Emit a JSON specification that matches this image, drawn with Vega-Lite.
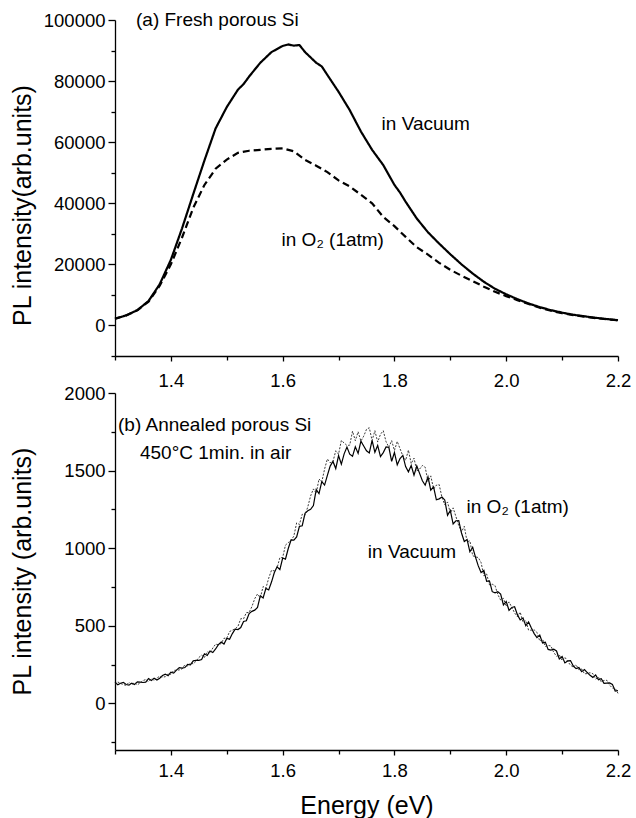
{
  "$schema": "https://vega.github.io/schema/vega-lite/v6.json",
  "background": "white",
  "padding": {"left": 10, "top": 11, "right": 8, "bottom": 0},
  "bounds": "flush",
  "spacing": 37,
  "config": {
    "view": {"stroke": null},
    "font": "Liberation Sans",
    "axis": {
      "labelFont": "Liberation Sans",
      "labelFontSize": 18.5,
      "labelColor": "black",
      "titleFont": "Liberation Sans",
      "titleFontSize": 25,
      "titleFontWeight": "normal",
      "titleColor": "black",
      "domainColor": "black",
      "domainWidth": 1.3,
      "tickColor": "black",
      "tickWidth": 1.3,
      "grid": false,
      "labelOverlap": false,
      "labelFlush": false
    },
    "text": {"font": "Liberation Sans", "fontSize": 19, "color": "black"}
  },
  "datasets": {
    "top": [
      {"series":"vacuum","E":1.30,"I":2200},{"series":"vacuum","E":1.32,"I":3300},{"series":"vacuum","E":1.34,"I":5000},{"series":"vacuum","E":1.36,"I":8000},{"series":"vacuum","E":1.38,"I":13500},{"series":"vacuum","E":1.40,"I":21500},{"series":"vacuum","E":1.42,"I":31800},{"series":"vacuum","E":1.44,"I":43000},{"series":"vacuum","E":1.46,"I":54000},{"series":"vacuum","E":1.48,"I":64500},{"series":"vacuum","E":1.50,"I":71500},{"series":"vacuum","E":1.52,"I":77200},{"series":"vacuum","E":1.53,"I":79000},{"series":"vacuum","E":1.54,"I":81500},{"series":"vacuum","E":1.56,"I":86000},{"series":"vacuum","E":1.58,"I":89500},{"series":"vacuum","E":1.59,"I":90500},{"series":"vacuum","E":1.60,"I":91500},{"series":"vacuum","E":1.61,"I":92000},{"series":"vacuum","E":1.62,"I":91600},{"series":"vacuum","E":1.63,"I":91800},{"series":"vacuum","E":1.64,"I":89500},{"series":"vacuum","E":1.66,"I":86000},{"series":"vacuum","E":1.67,"I":84800},{"series":"vacuum","E":1.68,"I":82000},{"series":"vacuum","E":1.70,"I":76500},{"series":"vacuum","E":1.72,"I":70500},{"series":"vacuum","E":1.74,"I":63500},{"series":"vacuum","E":1.76,"I":57500},{"series":"vacuum","E":1.78,"I":52500},{"series":"vacuum","E":1.80,"I":46000},{"series":"vacuum","E":1.81,"I":43500},{"series":"vacuum","E":1.82,"I":40500},{"series":"vacuum","E":1.84,"I":35000},{"series":"vacuum","E":1.86,"I":30500},{"series":"vacuum","E":1.88,"I":26800},{"series":"vacuum","E":1.90,"I":23300},{"series":"vacuum","E":1.92,"I":20000},{"series":"vacuum","E":1.94,"I":17000},{"series":"vacuum","E":1.96,"I":14300},{"series":"vacuum","E":1.98,"I":12000},{"series":"vacuum","E":2.00,"I":10200},{"series":"vacuum","E":2.02,"I":8600},{"series":"vacuum","E":2.04,"I":7200},{"series":"vacuum","E":2.06,"I":6000},{"series":"vacuum","E":2.08,"I":5000},{"series":"vacuum","E":2.10,"I":4200},{"series":"vacuum","E":2.12,"I":3500},{"series":"vacuum","E":2.14,"I":3000},{"series":"vacuum","E":2.16,"I":2500},{"series":"vacuum","E":2.18,"I":2100},{"series":"vacuum","E":2.20,"I":1700},
      {"series":"o2","E":1.30,"I":2200},{"series":"o2","E":1.32,"I":3300},{"series":"o2","E":1.34,"I":5000},{"series":"o2","E":1.36,"I":7800},{"series":"o2","E":1.38,"I":13000},{"series":"o2","E":1.40,"I":20000},{"series":"o2","E":1.42,"I":28800},{"series":"o2","E":1.44,"I":38500},{"series":"o2","E":1.46,"I":46000},{"series":"o2","E":1.48,"I":51300},{"series":"o2","E":1.50,"I":54300},{"series":"o2","E":1.52,"I":56500},{"series":"o2","E":1.54,"I":57200},{"series":"o2","E":1.56,"I":57500},{"series":"o2","E":1.58,"I":57800},{"series":"o2","E":1.60,"I":58000},{"series":"o2","E":1.62,"I":57000},{"series":"o2","E":1.64,"I":54200},{"series":"o2","E":1.66,"I":52300},{"series":"o2","E":1.68,"I":50200},{"series":"o2","E":1.70,"I":47500},{"series":"o2","E":1.72,"I":45500},{"series":"o2","E":1.74,"I":42800},{"series":"o2","E":1.76,"I":40000},{"series":"o2","E":1.78,"I":35500},{"series":"o2","E":1.80,"I":32500},{"series":"o2","E":1.82,"I":29000},{"series":"o2","E":1.84,"I":25600},{"series":"o2","E":1.86,"I":23200},{"series":"o2","E":1.88,"I":20500},{"series":"o2","E":1.90,"I":18200},{"series":"o2","E":1.92,"I":16300},{"series":"o2","E":1.94,"I":14500},{"series":"o2","E":1.96,"I":12700},{"series":"o2","E":1.98,"I":11000},{"series":"o2","E":2.00,"I":9600},{"series":"o2","E":2.02,"I":8300},{"series":"o2","E":2.04,"I":7000},{"series":"o2","E":2.06,"I":5800},{"series":"o2","E":2.08,"I":4800},{"series":"o2","E":2.10,"I":4000},{"series":"o2","E":2.12,"I":3400},{"series":"o2","E":2.14,"I":2900},{"series":"o2","E":2.16,"I":2400},{"series":"o2","E":2.18,"I":2000},{"series":"o2","E":2.20,"I":1700}
    ],
    "toplabels": [
      {"E":1.3376,"I":99850,"label":"(a) Fresh porous Si"},
      {"E":1.777,"I":65900,"label":"in Vacuum"},
      {"E":1.598,"I":28060,"label":"in O₂ (1atm)"}
    ],
    "bottomv": [
      {"E":1.300,"I":136},{"E":1.305,"I":120},{"E":1.310,"I":130},{"E":1.315,"I":136},{"E":1.320,"I":122},{"E":1.325,"I":118},{"E":1.330,"I":131},{"E":1.335,"I":122},{"E":1.340,"I":139},{"E":1.345,"I":137},
      {"E":1.350,"I":135},{"E":1.355,"I":137},{"E":1.360,"I":160},{"E":1.365,"I":148},{"E":1.370,"I":162},{"E":1.375,"I":151},{"E":1.380,"I":162},{"E":1.385,"I":180},{"E":1.390,"I":189},{"E":1.395,"I":179},
      {"E":1.400,"I":201},{"E":1.405,"I":195},{"E":1.410,"I":215},{"E":1.415,"I":231},{"E":1.420,"I":227},{"E":1.425,"I":231},{"E":1.430,"I":251},{"E":1.435,"I":249},{"E":1.440,"I":274},{"E":1.445,"I":277},
      {"E":1.450,"I":278},{"E":1.455,"I":283},{"E":1.460,"I":320},{"E":1.465,"I":309},{"E":1.470,"I":338},{"E":1.475,"I":328},{"E":1.480,"I":351},{"E":1.485,"I":379},{"E":1.490,"I":396},{"E":1.495,"I":383},
      {"E":1.500,"I":419},{"E":1.505,"I":414},{"E":1.510,"I":450},{"E":1.515,"I":478},{"E":1.520,"I":476},{"E":1.525,"I":489},{"E":1.530,"I":528},{"E":1.535,"I":533},{"E":1.540,"I":579},{"E":1.545,"I":593},
      {"E":1.550,"I":601},{"E":1.555,"I":618},{"E":1.560,"I":693},{"E":1.565,"I":679},{"E":1.570,"I":741},{"E":1.575,"I":731},{"E":1.580,"I":782},{"E":1.585,"I":842},{"E":1.590,"I":880},{"E":1.595,"I":862},
      {"E":1.600,"I":937},{"E":1.605,"I":930},{"E":1.610,"I":998},{"E":1.615,"I":1053},{"E":1.620,"I":1052},{"E":1.625,"I":1073},{"E":1.630,"I":1141},{"E":1.635,"I":1145},{"E":1.640,"I":1225},{"E":1.645,"I":1241},
      {"E":1.650,"I":1251},{"E":1.655,"I":1275},{"E":1.660,"I":1378},{"E":1.665,"I":1352},{"E":1.670,"I":1429},{"E":1.675,"I":1407},{"E":1.680,"I":1469},{"E":1.685,"I":1529},{"E":1.690,"I":1559},{"E":1.695,"I":1513},
      {"E":1.700,"I":1597},{"E":1.705,"I":1542},{"E":1.710,"I":1608},{"E":1.715,"I":1652},{"E":1.720,"I":1606},{"E":1.725,"I":1592},{"E":1.730,"I":1653},{"E":1.735,"I":1611},{"E":1.740,"I":1690},{"E":1.745,"I":1659},
      {"E":1.750,"I":1628},{"E":1.755,"I":1614},{"E":1.760,"I":1695},{"E":1.765,"I":1618},{"E":1.770,"I":1662},{"E":1.775,"I":1590},{"E":1.780,"I":1616},{"E":1.785,"I":1652},{"E":1.790,"I":1650},{"E":1.795,"I":1560},
      {"E":1.800,"I":1617},{"E":1.805,"I":1537},{"E":1.810,"I":1578},{"E":1.815,"I":1598},{"E":1.820,"I":1526},{"E":1.825,"I":1492},{"E":1.830,"I":1533},{"E":1.835,"I":1471},{"E":1.840,"I":1530},{"E":1.845,"I":1482},
      {"E":1.850,"I":1435},{"E":1.855,"I":1406},{"E":1.860,"I":1460},{"E":1.865,"I":1374},{"E":1.870,"I":1395},{"E":1.875,"I":1312},{"E":1.880,"I":1318},{"E":1.885,"I":1330},{"E":1.890,"I":1311},{"E":1.895,"I":1212},
      {"E":1.900,"I":1244},{"E":1.905,"I":1156},{"E":1.910,"I":1177},{"E":1.915,"I":1178},{"E":1.920,"I":1098},{"E":1.925,"I":1043},{"E":1.930,"I":1056},{"E":1.935,"I":977},{"E":1.940,"I":1006},{"E":1.945,"I":943},
      {"E":1.950,"I":886},{"E":1.955,"I":843},{"E":1.960,"I":858},{"E":1.965,"I":786},{"E":1.970,"I":789},{"E":1.975,"I":720},{"E":1.980,"I":712},{"E":1.985,"I":720},{"E":1.990,"I":705},{"E":1.995,"I":635},
      {"E":2.000,"I":657},{"E":2.005,"I":600},{"E":2.010,"I":618},{"E":2.015,"I":623},{"E":2.020,"I":572},{"E":2.025,"I":538},{"E":2.030,"I":551},{"E":2.035,"I":500},{"E":2.040,"I":525},{"E":2.045,"I":486},
      {"E":2.050,"I":450},{"E":2.055,"I":424},{"E":2.060,"I":440},{"E":2.065,"I":390},{"E":2.070,"I":395},{"E":2.075,"I":348},{"E":2.080,"I":344},{"E":2.085,"I":349},{"E":2.090,"I":338},{"E":2.095,"I":287},
      {"E":2.100,"I":302},{"E":2.105,"I":261},{"E":2.110,"I":274},{"E":2.115,"I":276},{"E":2.120,"I":241},{"E":2.125,"I":224},{"E":2.130,"I":231},{"E":2.135,"I":205},{"E":2.140,"I":218},{"E":2.145,"I":199},
      {"E":2.150,"I":181},{"E":2.155,"I":168},{"E":2.160,"I":184},{"E":2.165,"I":153},{"E":2.170,"I":159},{"E":2.175,"I":130},{"E":2.180,"I":131},{"E":2.185,"I":132},{"E":2.190,"I":123},{"E":2.195,"I":80},
      {"E":2.200,"I":83}
    ],
    "bottomo": [
      {"E":1.300,"I":123},{"E":1.305,"I":138},{"E":1.310,"I":129},{"E":1.315,"I":121},{"E":1.320,"I":117},{"E":1.325,"I":136},{"E":1.330,"I":121},{"E":1.335,"I":134},{"E":1.340,"I":120},{"E":1.345,"I":132},
      {"E":1.350,"I":147},{"E":1.355,"I":154},{"E":1.360,"I":141},{"E":1.365,"I":160},{"E":1.370,"I":148},{"E":1.375,"I":164},{"E":1.380,"I":175},{"E":1.385,"I":170},{"E":1.390,"I":172},{"E":1.395,"I":192},
      {"E":1.400,"I":188},{"E":1.405,"I":213},{"E":1.410,"I":214},{"E":1.415,"I":216},{"E":1.420,"I":222},{"E":1.425,"I":249},{"E":1.430,"I":241},{"E":1.435,"I":261},{"E":1.440,"I":255},{"E":1.445,"I":272},
      {"E":1.450,"I":296},{"E":1.455,"I":311},{"E":1.460,"I":296},{"E":1.465,"I":333},{"E":1.470,"I":325},{"E":1.475,"I":357},{"E":1.480,"I":382},{"E":1.485,"I":378},{"E":1.490,"I":386},{"E":1.495,"I":420},
      {"E":1.500,"I":420},{"E":1.505,"I":463},{"E":1.510,"I":472},{"E":1.515,"I":481},{"E":1.520,"I":496},{"E":1.525,"I":546},{"E":1.530,"I":545},{"E":1.535,"I":585},{"E":1.540,"I":586},{"E":1.545,"I":624},
      {"E":1.550,"I":675},{"E":1.555,"I":705},{"E":1.560,"I":680},{"E":1.565,"I":753},{"E":1.570,"I":742},{"E":1.575,"I":807},{"E":1.580,"I":858},{"E":1.585,"I":854},{"E":1.590,"I":873},{"E":1.595,"I":939},
      {"E":1.600,"I":940},{"E":1.605,"I":1020},{"E":1.610,"I":1036},{"E":1.615,"I":1051},{"E":1.620,"I":1078},{"E":1.625,"I":1163},{"E":1.630,"I":1153},{"E":1.635,"I":1219},{"E":1.640,"I":1212},{"E":1.645,"I":1267},
      {"E":1.650,"I":1337},{"E":1.655,"I":1382},{"E":1.660,"I":1352},{"E":1.665,"I":1446},{"E":1.670,"I":1427},{"E":1.675,"I":1510},{"E":1.680,"I":1575},{"E":1.685,"I":1551},{"E":1.690,"I":1558},{"E":1.695,"I":1628},
      {"E":1.700,"I":1606},{"E":1.705,"I":1694},{"E":1.710,"I":1678},{"E":1.715,"I":1662},{"E":1.720,"I":1664},{"E":1.725,"I":1754},{"E":1.730,"I":1693},{"E":1.735,"I":1750},{"E":1.740,"I":1690},{"E":1.745,"I":1722},
      {"E":1.750,"I":1766},{"E":1.755,"I":1776},{"E":1.760,"I":1694},{"E":1.765,"I":1757},{"E":1.770,"I":1684},{"E":1.775,"I":1734},{"E":1.780,"I":1757},{"E":1.785,"I":1686},{"E":1.790,"I":1651},{"E":1.795,"I":1693},
      {"E":1.800,"I":1630},{"E":1.805,"I":1688},{"E":1.810,"I":1641},{"E":1.815,"I":1595},{"E":1.820,"I":1566},{"E":1.825,"I":1632},{"E":1.830,"I":1545},{"E":1.835,"I":1580},{"E":1.840,"I":1498},{"E":1.845,"I":1510},
      {"E":1.850,"I":1533},{"E":1.855,"I":1522},{"E":1.860,"I":1430},{"E":1.865,"I":1466},{"E":1.870,"I":1382},{"E":1.875,"I":1406},{"E":1.880,"I":1410},{"E":1.885,"I":1328},{"E":1.890,"I":1280},{"E":1.895,"I":1298},
      {"E":1.900,"I":1226},{"E":1.905,"I":1260},{"E":1.910,"I":1204},{"E":1.915,"I":1146},{"E":1.920,"I":1106},{"E":1.925,"I":1141},{"E":1.930,"I":1041},{"E":1.935,"I":1048},{"E":1.940,"I":952},{"E":1.945,"I":944},
      {"E":1.950,"I":940},{"E":1.955,"I":908},{"E":1.960,"I":822},{"E":1.965,"I":834},{"E":1.970,"I":764},{"E":1.975,"I":768},{"E":1.980,"I":759},{"E":1.985,"I":701},{"E":1.990,"I":666},{"E":1.995,"I":677},
      {"E":2.000,"I":625},{"E":2.005,"I":654},{"E":2.010,"I":619},{"E":2.015,"I":583},{"E":2.020,"I":559},{"E":2.025,"I":588},{"E":2.030,"I":523},{"E":2.035,"I":534},{"E":2.040,"I":472},{"E":2.045,"I":472},
      {"E":2.050,"I":474},{"E":2.055,"I":458},{"E":2.060,"I":402},{"E":2.065,"I":414},{"E":2.070,"I":367},{"E":2.075,"I":374},{"E":2.080,"I":370},{"E":2.085,"I":329},{"E":2.090,"I":304},{"E":2.095,"I":313},
      {"E":2.100,"I":276},{"E":2.105,"I":297},{"E":2.110,"I":272},{"E":2.115,"I":246},{"E":2.120,"I":234},{"E":2.125,"I":249},{"E":2.130,"I":217},{"E":2.135,"I":222},{"E":2.140,"I":191},{"E":2.145,"I":192},
      {"E":2.150,"I":198},{"E":2.155,"I":192},{"E":2.160,"I":157},{"E":2.165,"I":169},{"E":2.170,"I":139},{"E":2.175,"I":148},{"E":2.180,"I":149},{"E":2.185,"I":118},{"E":2.190,"I":99},{"E":2.195,"I":98},
      {"E":2.200,"I":65}
    ],
    "bottomlabels": [
      {"E":1.3054,"I":1796,"label":"(b) Annealed porous Si"},
      {"E":1.3447,"I":1615,"label":"450°C 1min. in air"},
      {"E":1.929,"I":1268,"label":"in O₂ (1atm)"},
      {"E":1.7524,"I":978,"label":"in Vacuum"}
    ]
  },
  "vconcat": [
    {
      "width": 503,
      "height": 336,
      "resolve": {"axis": {"y": "independent"}},
      "layer": [
        {
          "data": {"name": "top"},
          "mark": {"type": "line", "color": "black", "strokeWidth": 2.2},
          "encoding": {
            "x": {"field": "E", "type": "quantitative",
              "scale": {"domain": [1.3, 2.2], "nice": false, "zero": false},
              "axis": {"title": null,
                "values": [1.3,1.4,1.5,1.6,1.7,1.8,1.9,2.0,2.1,2.2],
                "format": ".1f",
                "labelExpr": "round(datum.value*10)%2==0 ? datum.label : ''",
                "tickSize": {"condition": {"test": "round(datum.value*10)%2==1", "value": 4}, "value": 5},
                "labelPadding": 10}},
            "y": {"field": "I", "type": "quantitative",
              "scale": {"domain": [-10000, 100000], "nice": false, "zero": false},
              "axis": {"title": "PL intensity(arb.units)", "orient": "left",
                "values": [0,20000,40000,60000,80000,100000],
                "format": "d",
                "tickSize": 7,
                "labelPadding": 3,
                "titleX": -93, "titleY": 185, "titleBaseline": "middle"}},
            "strokeDash": {"field": "series", "type": "nominal",
              "scale": {"domain": ["vacuum", "o2"], "range": [[1, 0], [7, 4]]}, "legend": null}
          }
        },
        {
          "data": {"name": "toplabels"},
          "mark": {"type": "text", "align": "left", "baseline": "middle"},
          "encoding": {
            "x": {"field": "E", "type": "quantitative"},
            "y": {"field": "I", "type": "quantitative",
              "axis": {"orient": "left", "title": null, "labels": false, "domain": false,
                "values": [-10000,10000,30000,50000,70000,90000], "tickSize": 4}},
            "text": {"field": "label"}
          }
        }
      ]
    },
    {
      "width": 503,
      "height": 357,
      "resolve": {"axis": {"y": "independent"}},
      "layer": [
        {
          "data": {"name": "bottomv"},
          "mark": {"type": "line", "color": "black", "strokeWidth": 1.2},
          "encoding": {
            "x": {"field": "E", "type": "quantitative",
              "scale": {"domain": [1.3, 2.2], "nice": false, "zero": false},
              "axis": {"title": "Energy (eV)",
                "values": [1.3,1.4,1.5,1.6,1.7,1.8,1.9,2.0,2.1,2.2],
                "format": ".1f",
                "labelExpr": "round(datum.value*10)%2==0 ? datum.label : ''",
                "tickSize": {"condition": {"test": "round(datum.value*10)%2==1", "value": 4}, "value": 5},
                "labelPadding": 6, "titlePadding": 14}},
            "y": {"field": "I", "type": "quantitative",
              "scale": {"domain": [-300, 2000], "nice": false, "zero": false},
              "axis": {"title": "PL intensity (arb.units)", "orient": "left",
                "values": [0,500,1000,1500,2000],
                "format": "d",
                "tickSize": 7,
                "labelPadding": 3,
                "titleX": -93, "titleY": 178, "titleBaseline": "middle"}}
          }
        },
        {
          "data": {"name": "bottomo"},
          "mark": {"type": "line", "color": "#222222", "strokeWidth": 0.9, "strokeDash": [2, 1.5]},
          "encoding": {
            "x": {"field": "E", "type": "quantitative"},
            "y": {"field": "I", "type": "quantitative", "axis": null}
          }
        },
        {
          "data": {"name": "bottomlabels"},
          "mark": {"type": "text", "align": "left", "baseline": "middle"},
          "encoding": {
            "x": {"field": "E", "type": "quantitative"},
            "y": {"field": "I", "type": "quantitative",
              "axis": {"orient": "left", "title": null, "labels": false, "domain": false,
                "values": [-250,250,750,1250,1750], "tickSize": 4}},
            "text": {"field": "label"}
          }
        }
      ]
    }
  ]
}
